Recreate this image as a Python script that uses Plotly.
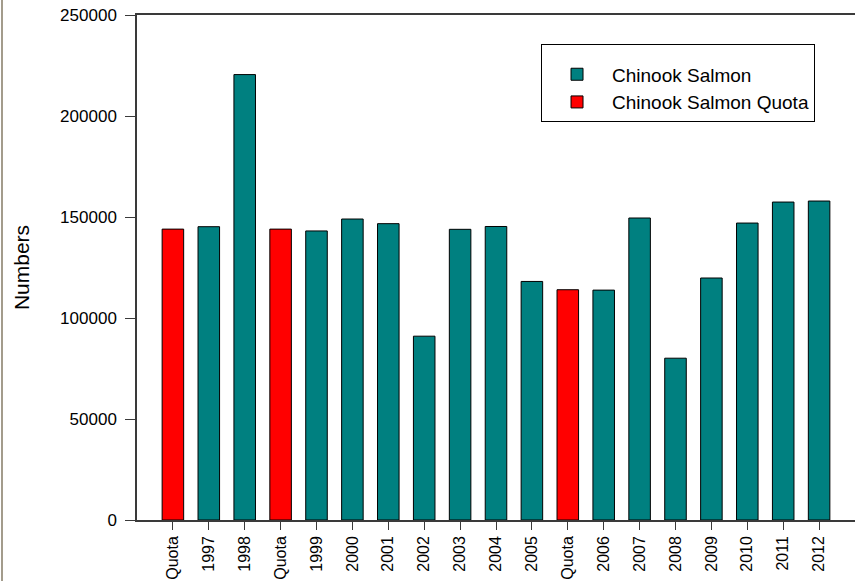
import plotly.graph_objects as go

# ---- data ----
categories = ["Quota", "1997", "1998", "Quota", "1999", "2000", "2001", "2002", "2003",
              "2004", "2005", "Quota", "2006", "2007", "2008", "2009", "2010", "2011", "2012"]
values = [144000, 145200, 220500, 144000, 143100, 149000, 146700, 91000, 143900,
          145300, 118100, 114000, 113800, 149500, 80100, 119800, 147000, 157400, 157900]
series_names = ["Chinook Salmon", "Chinook Salmon Quota"]
y_ticks = [0, 50000, 100000, 150000, 200000, 250000]

positions = list(range(len(categories)))
catch_x = [p for p, c in zip(positions, categories) if c != "Quota"]
catch_y = [v for v, c in zip(values, categories) if c != "Quota"]
quota_x = [p for p, c in zip(positions, categories) if c == "Quota"]
quota_y = [v for v, c in zip(values, categories) if c == "Quota"]

FONT = "Liberation Sans, Arial, sans-serif"
AXIS = "#3a3a3a"

fig = go.Figure()
fig.add_trace(go.Bar(x=catch_x, y=catch_y, name=series_names[0], width=0.6,
                     marker=dict(color="#008080", line=dict(color="black", width=1))))
fig.add_trace(go.Bar(x=quota_x, y=quota_y, name=series_names[1], width=0.6,
                     marker=dict(color="#FF0000", line=dict(color="black", width=1))))

fig.update_layout(
    width=855, height=581,
    margin=dict(l=137, r=0, t=15, b=61, autoexpand=False),
    paper_bgcolor="white", plot_bgcolor="white",
    barmode="overlay",
    font=dict(family=FONT, color="black", size=16),
    legend=dict(x=0.5627, y=0.9426, xanchor="left", yanchor="top",
                bordercolor="black", borderwidth=1, bgcolor="white",
                font=dict(size=19, family=FONT), traceorder="normal",
                itemwidth=60,
                title=dict(text=" ", font=dict(size=8))),
    xaxis=dict(range=[-1, len(categories)], tickmode="array", tickvals=positions,
               ticktext=categories, tickangle=-90, ticks="outside", ticklen=8,
               tickcolor=AXIS, showline=True, linecolor=AXIS, linewidth=1.5,
               mirror=True, showgrid=False, zeroline=False,
               tickfont=dict(size=16, family=FONT)),
    yaxis=dict(range=[0, 250000], tickmode="array", tickvals=y_ticks,
               tickformat="d", ticks="outside", ticklen=10, tickcolor=AXIS,
               showline=True, linecolor=AXIS, linewidth=1.5, showgrid=False,
               zeroline=False, tickfont=dict(size=17, family=FONT),
               ticklabelstandoff=5,
               title=dict(text="Numbers", font=dict(size=21, family=FONT), standoff=25)),
    shapes=[dict(type="line", xref="paper", yref="paper",
                 x0=(2 - 137) / 718, x1=(2 - 137) / 718, y0=-0.13, y1=1.04,
                 line=dict(color="#a39c8c", width=2))],
)

fig.write_html("out.html", config={"displayModeBar": False},
               post_script="document.body.style.margin='0px';document.body.style.overflow='hidden';")
